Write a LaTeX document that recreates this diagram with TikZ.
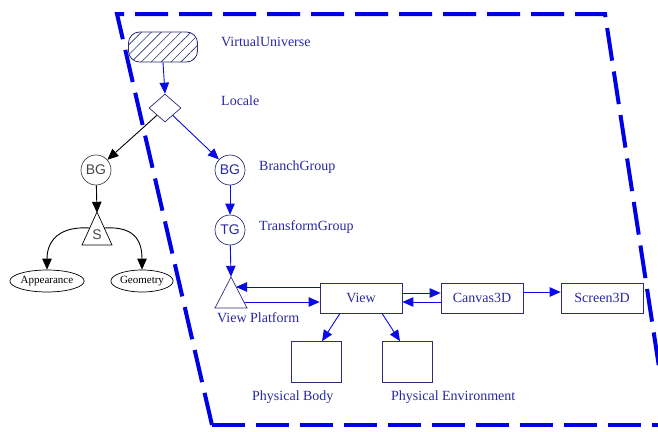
\documentclass[tikz,border=0pt]{standalone}
\usepackage{fontspec}
\setmainfont{Liberation Serif}
\newfontfamily\arialf{Liberation Sans}
\usetikzlibrary{arrows.meta,shapes.geometric,patterns.meta}
\definecolor{frameblue}{RGB}{0,0,230}
\definecolor{arrblue}{RGB}{10,10,230}
\definecolor{navy}{RGB}{45,45,115}
\definecolor{lblue}{RGB}{40,40,160}
\definecolor{grayc}{RGB}{70,70,70}
\tikzset{
  arrb/.style={draw=arrblue, line width=0.9pt, -{Triangle[length=11pt,width=9.5pt]}},
  arrk/.style={draw=black, line width=0.9pt, -{Triangle[length=11pt,width=9.5pt]}},
  lbl/.style={anchor=west, text=lblue, font=\fontsize{14}{16}\selectfont, inner sep=0pt},
  boxn/.style={draw=navy, line width=0.7pt, minimum width=82pt, minimum height=30pt, text=lblue, font=\fontsize{14}{16}\selectfont, inner sep=0pt},
  pbox/.style={draw=navy, line width=0.7pt, minimum width=50pt, minimum height=41pt, inner sep=0pt},
  circb/.style={circle, draw=navy, line width=0.7pt, minimum size=30pt, inner sep=0pt, text=lblue, font=\arialf\fontsize{14}{15}\selectfont},
  circk/.style={circle, draw=grayc, line width=0.7pt, minimum size=30pt, inner sep=0pt, text=grayc, font=\arialf\fontsize{14}{15}\selectfont},
  ell/.style={ellipse, draw=black, line width=0.7pt, minimum height=22pt, inner sep=0pt, font=\fontsize{11}{12}\selectfont},
  tribox/.style={minimum width=32pt, minimum height=32pt, inner sep=0pt},
  framel/.style={frameblue, line width=4pt, dash pattern=on 33pt off 11pt},
}
\begin{document}
\begin{tikzpicture}[x=1pt,y=-1pt]
\useasboundingbox (0,0) rectangle (658,431);
% dashed frame
\draw[framel] (212,425) -- (117,14) -- (605,14) -- (672,452);
\draw[framel] (212,425) -- (670,425);
% Virtual universe
\node[draw=navy, line width=0.8pt, rounded corners=11pt, minimum width=69pt, minimum height=30pt,
      pattern={Lines[angle=45,distance=7pt,line width=0.6pt]}, pattern color=navy] (VU) at (163,47) {};
\node[lbl] (VUl) at (221,42) {VirtualUniverse};
% Locale
\node[diamond, draw=navy, line width=0.7pt, minimum width=32pt, minimum height=28pt, inner sep=0pt] (L) at (165,108) {};
\node[lbl] (Ll) at (221,101) {Locale};
\draw[arrb] (VU.south) -- (L.north);
% left branch
\node[circk] (BGl) at (96,170) {BG};
\draw[arrk] (L) -- (BGl);
\node[tribox] (S) at (97,229) {};
\draw[black, line width=0.7pt] (82,245) -- (112,245) -- (97,212) -- cycle;
\node[text=grayc, font=\arialf\fontsize{14}{15}\selectfont, inner sep=0pt] (St) at (97,235) {S};
\draw[arrk] (BGl) -- (S.north);
\node[ell, minimum width=60pt] (App) at (47,281) {Appearance};
\node[ell, minimum width=51pt] (Geo) at (142,281) {Geometry};
\coordinate (Sl) at (90,228);
\coordinate (Sr) at (104,228);
\draw[arrk] (Sl) .. controls (60,226) and (47,240) .. (App.north);
\draw[arrk] (Sr) .. controls (134,226) and (142,240) .. (Geo.north);
% right branch
\node[circb] (BGr) at (230,170) {BG};
\node[lbl] (BGrl) at (259,167) {BranchGroup};
\draw[arrb] (L) -- (BGr);
\node[circb] (TG) at (230,230) {TG};
\node[lbl] (TGl) at (259,227) {TransformGroup};
\draw[arrb] (BGr) -- (TG);
\node[tribox] (VP) at (231,293) {};
\draw[navy, line width=0.7pt] (215,308) -- (247,308) -- (231,277) -- cycle;
\node[lbl] (VPl) at (217,318) {View Platform};
\draw[arrb] (TG) -- (VP.north);
\coordinate (VPa) at (236,287);
\coordinate (VPb) at (244,302);
% boxes
\node[boxn] (View) at (361,298) {View};
\node[boxn] (Can) at (482,298) {Canvas3D};
\node[boxn] (Scr) at (602,298) {Screen3D};
\node[pbox] (PB) at (316,362) {};
\node[pbox] (PE) at (407,362) {};
\node[lbl] (PBl) at (252,397) {Physical Body};
\node[lbl] (PEl) at (391,397) {Physical Environment};
% connectors
\draw[arrb] ([yshift=11pt]View.west) -- (VPa);
\draw[arrb] (VPb) -- ([yshift=-4pt]View.west);
\draw[arrb] ([yshift=5pt]View.east) -- ([yshift=5pt]Can.west);
\draw[arrb] ([yshift=-4pt]Can.west) -- ([yshift=-4pt]View.east);
\draw[arrb] ([yshift=6pt]Can.east) -- ([yshift=6pt]Scr.west);
\draw[arrb] ([xshift=-21pt]View.south) -- ([xshift=6pt]PB.north);
\draw[arrb] ([xshift=21pt]View.south) -- ([xshift=-7pt]PE.north);
\end{tikzpicture}
\end{document}
